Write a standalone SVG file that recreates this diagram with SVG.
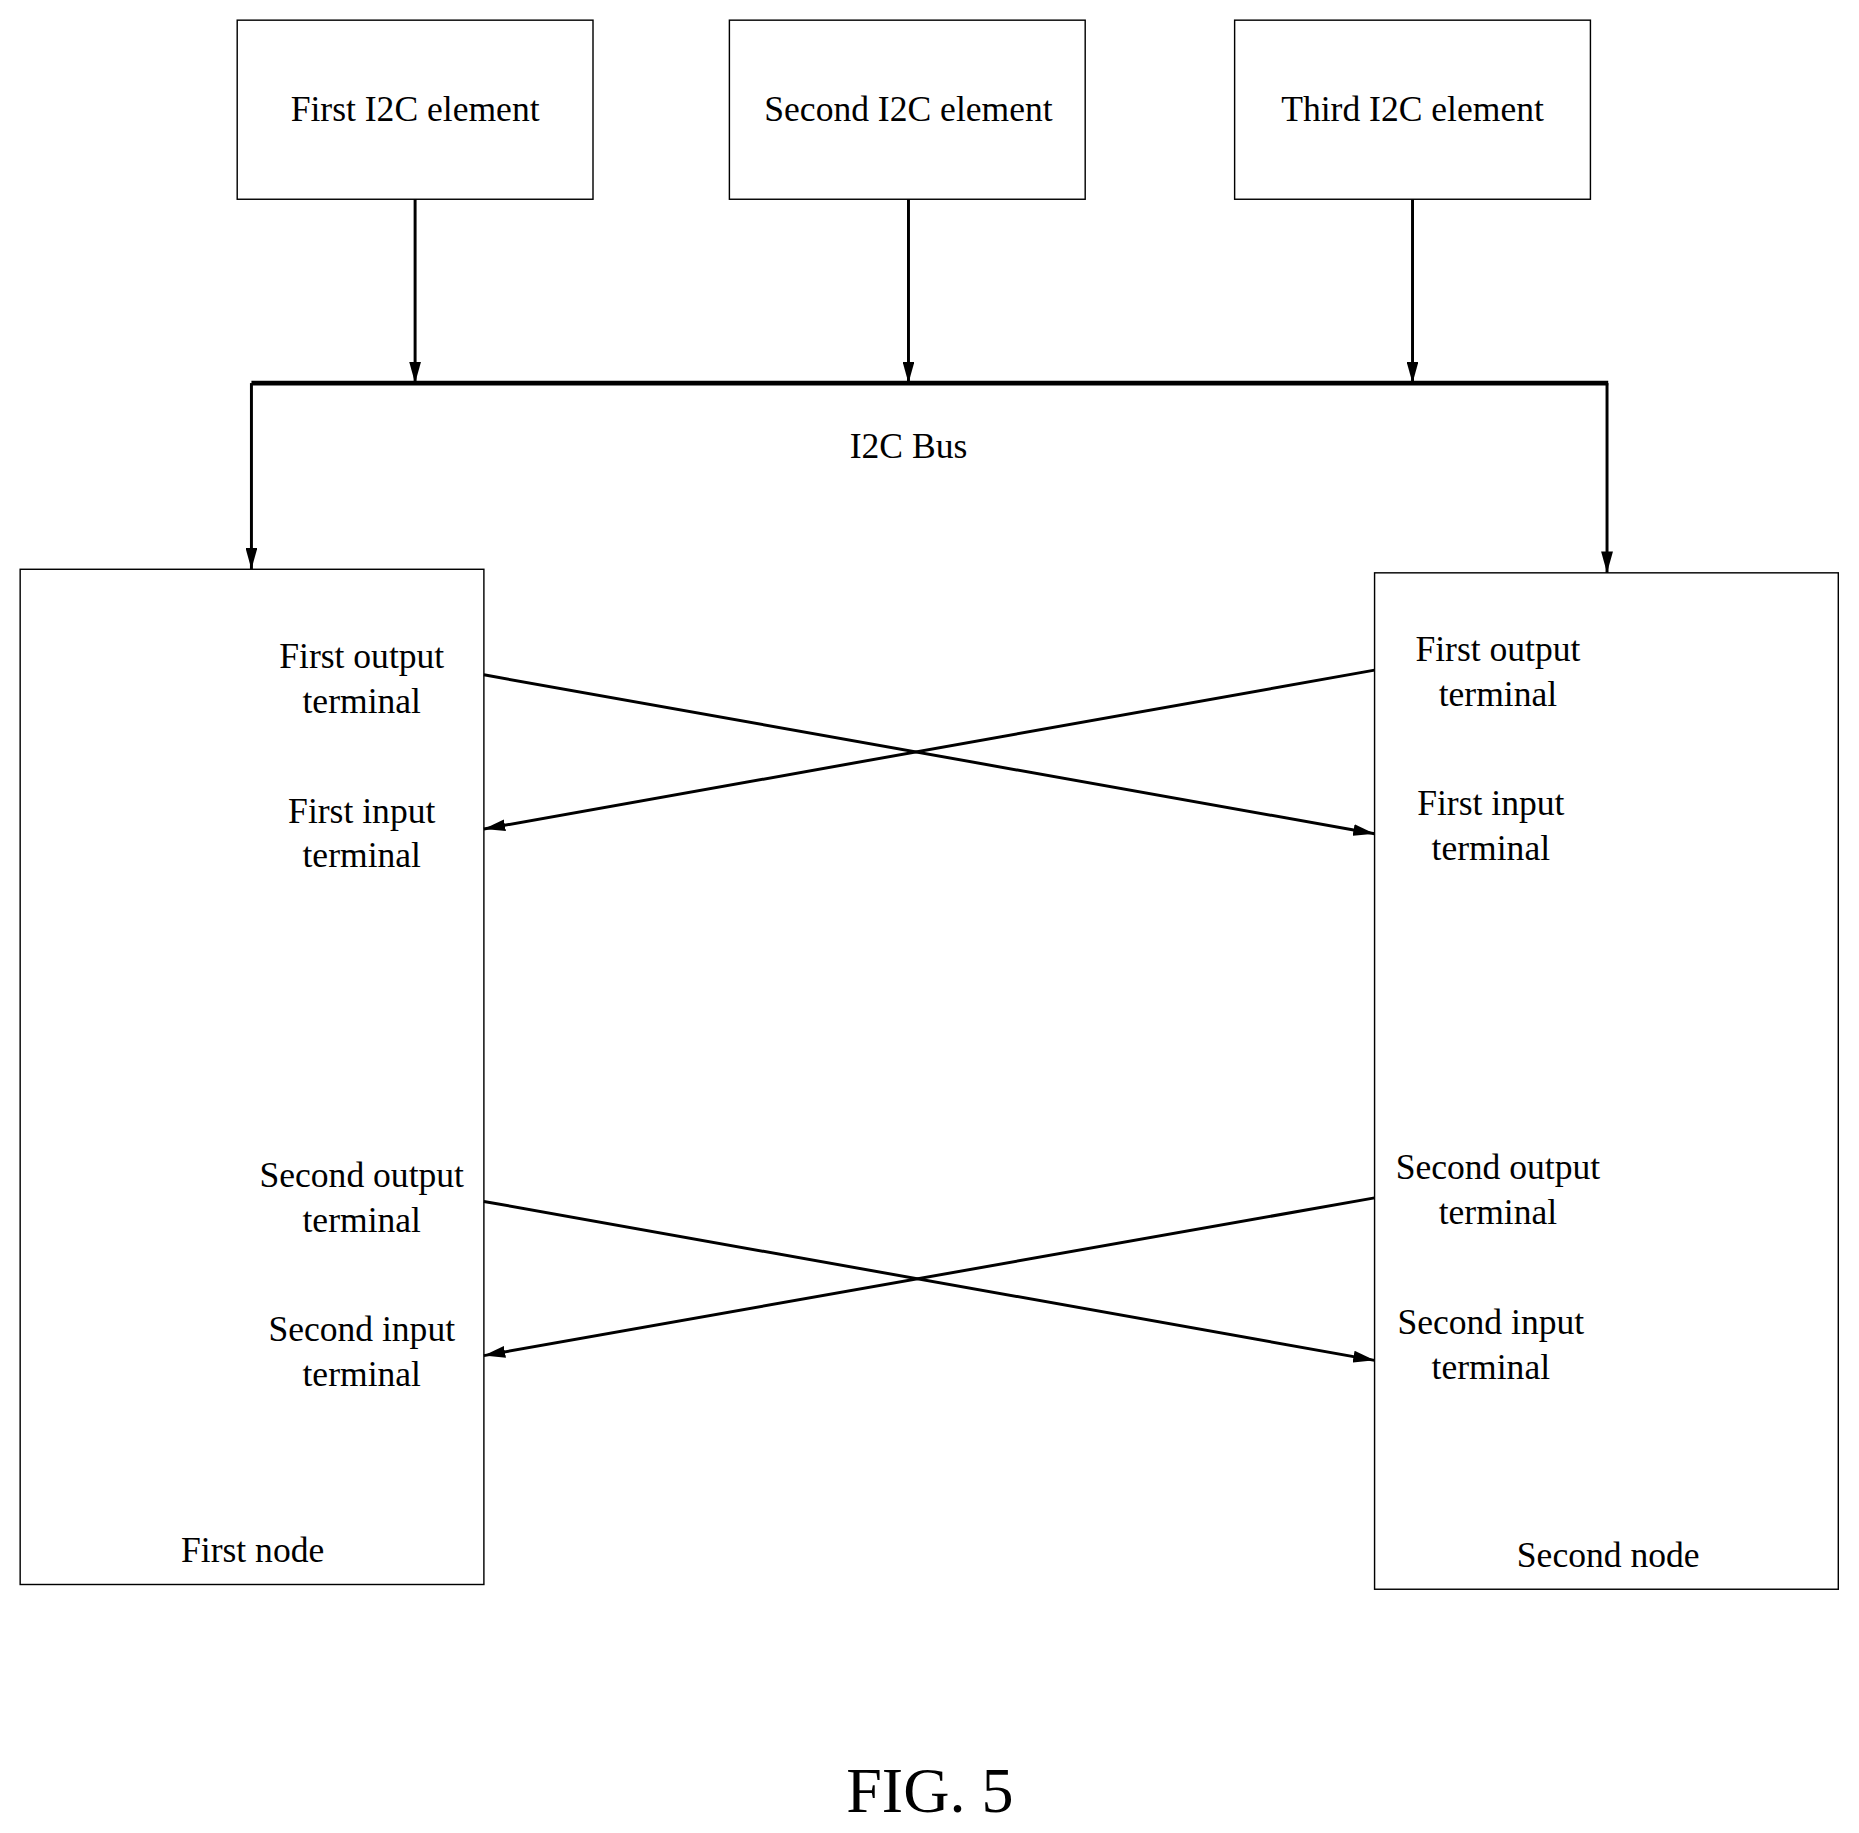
<svg xmlns="http://www.w3.org/2000/svg" width="1859" height="1833" viewBox="0 0 1859 1833">
<style>
.b{fill:#fff;stroke:#000;stroke-width:1.2}
.t{font-family:"Liberation Serif",serif;font-size:30px;text-anchor:middle;fill:#000}
.c{stroke:#000;stroke-width:2.5;fill:none}
</style>
<defs>
<marker id="m" viewBox="0 0 10 10" refX="10" refY="5" markerWidth="18" markerHeight="10" orient="auto" markerUnits="userSpaceOnUse" preserveAspectRatio="none"><path d="M0,0L10,5L0,10z" fill="#000"/></marker></defs>
<rect width="1859" height="1833" fill="#fff"/>
<g transform="scale(1.186)">
<g id="e1"><rect class="b" x="200" y="17" width="300" height="151"/><text class="t" x="350" y="102">First I2C element</text></g>
<g id="e2"><rect class="b" x="615" y="17" width="300" height="151"/><text class="t" x="766" y="102">Second I2C element</text></g>
<g id="e3"><rect class="b" x="1041" y="17" width="300" height="151"/><text class="t" x="1191" y="102">Third I2C element</text></g>
<g id="bus"><line x1="212" y1="323" x2="1356" y2="323" stroke="#000" stroke-width="4"/><text class="t" x="766" y="386">I2C Bus</text></g>
<g id="n1"><rect class="b" x="17" y="480" width="391" height="856"/>
<text class="t" x="305" y="563">First output</text><text class="t" x="305" y="601">terminal</text>
<text class="t" x="305" y="694">First input</text><text class="t" x="305" y="731">terminal</text>
<text class="t" x="305" y="1001">Second output</text><text class="t" x="305" y="1039">terminal</text>
<text class="t" x="305" y="1131">Second input</text><text class="t" x="305" y="1169">terminal</text>
<text class="t" x="213" y="1317">First node</text></g>
<g id="n2"><rect class="b" x="1159" y="483" width="391" height="857"/>
<text class="t" x="1263" y="557">First output</text><text class="t" x="1263" y="595">terminal</text>
<text class="t" x="1257" y="687">First input</text><text class="t" x="1257" y="725">terminal</text>
<text class="t" x="1263" y="994">Second output</text><text class="t" x="1263" y="1032">terminal</text>
<text class="t" x="1257" y="1125">Second input</text><text class="t" x="1257" y="1163">terminal</text>
<text class="t" x="1356" y="1321">Second node</text></g>
<g id="connectors" class="c">
<line x1="350" y1="168" x2="350" y2="323" marker-end="url(#m)"/>
<line x1="766" y1="168" x2="766" y2="323" marker-end="url(#m)"/>
<line x1="1191" y1="168" x2="1191" y2="323" marker-end="url(#m)"/>
<line x1="212" y1="323" x2="212" y2="480" marker-end="url(#m)"/>
<line x1="1355" y1="323" x2="1355" y2="483" marker-end="url(#m)"/>
<line x1="408" y1="569" x2="1159" y2="703" marker-end="url(#m)"/>
<line x1="1159" y1="565" x2="408" y2="699" marker-end="url(#m)"/>
<line x1="408" y1="1013" x2="1159" y2="1147" marker-end="url(#m)"/>
<line x1="1159" y1="1010" x2="408" y2="1143" marker-end="url(#m)"/>
</g>
<text class="t" x="784" y="1528" style="font-size:54px">FIG. 5</text>
</g>
</svg>
